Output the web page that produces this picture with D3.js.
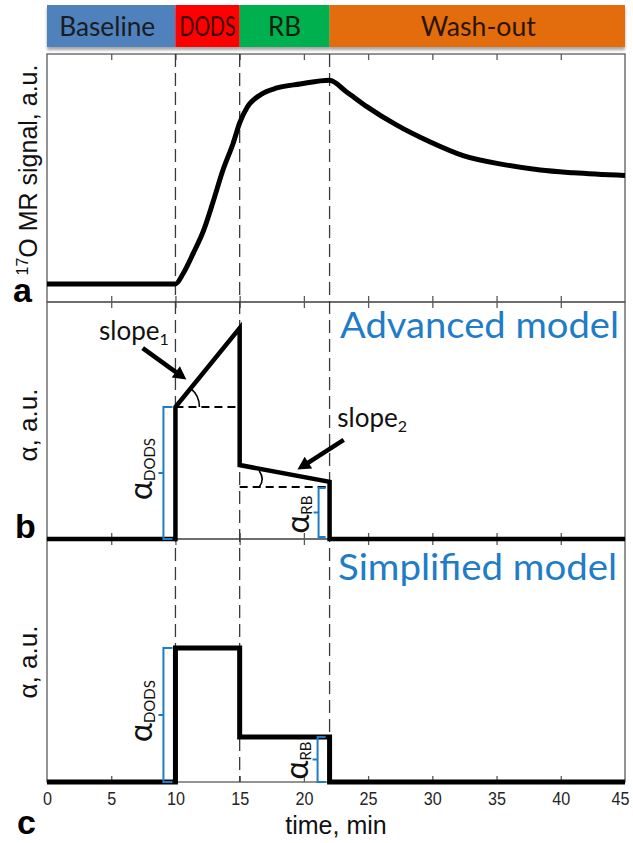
<!DOCTYPE html>
<html>
<head>
<meta charset="utf-8">
<script src="https://cdn.jsdelivr.net/npm/d3@7"></script>
<style>
  body { margin: 0; background: #fff; }
  svg { display: block; }
</style>
</head>
<body>
<script>
// Protocol phases (minutes)
const phaseNames  = ["Baseline", "DODS", "RB", "Wash-out"];
const phaseStart  = [0, 10, 15, 22];
const phaseEnd    = [10, 15, 22, 45];
const phaseColors = ["#4F81BD", "#FF0000", "#00B050", "#E36C09"];
const phaseTextColors = ["#1b1b22", "#3a0404", "#10200f", "#2a1404"];

const xTicks = [0, 5, 10, 15, 20, 25, 30, 35, 40, 45];
const boundaries = [10, 15, 22];

// Panel a: 17O MR signal (a.u.)
const signalTime  = [0, 10, 10.6, 11.4, 12.2, 12.9, 13.7, 14.5, 15.0, 15.6, 16.6, 17.9, 19.7, 22, 23.3, 24.9, 27.2, 29.8, 32.4, 35.8, 38.4, 41, 45];
const signalValue = [7.3, 7.3, 11.5, 19.8, 29.0, 39.9, 53.2, 64.1, 72.2, 78.6, 83.5, 86.3, 87.9, 89.4, 84.8, 78.8, 71.4, 64.6, 59.0, 55.2, 53.2, 52.1, 51.0];

// Panel b: advanced model alpha (a.u.)
const advTime  = [0, 10, 10, 15, 15, 22, 22, 45];
const advValue = [0, 0, 55.7, 89.0, 31.2, 24.1, 0, 0];
const advAlphaDODS = 55.7;
const advAlphaRB   = 21.9;

// Panel c: simplified model alpha (a.u.)
const simTime  = [0, 10, 10, 15, 15, 22, 22, 45];
const simValue = [0, 0, 55.1, 55.1, 18.5, 18.5, 0, 0];
const simAlphaDODS = 55.1;
const simAlphaRB   = 18.5;

const W = 633, H = 843;
const BLUE = "#1f7cc7";
const CAL = "Lato, 'Open Sans', sans-serif";
const ARIAL = "'Liberation Sans', Arial, sans-serif";

const svg = d3.select("body").append("svg")
  .attr("width", W).attr("height", H)
  .attr("viewBox", `0 0 ${W} ${H}`);

const defs = svg.append("defs");
const f = defs.append("filter").attr("id", "bandShadow")
  .attr("x", "-5%").attr("y", "-20%").attr("width", "110%").attr("height", "160%");
f.append("feDropShadow").attr("dx", 0).attr("dy", 3).attr("stdDeviation", 1.6)
  .attr("flood-color", "#000").attr("flood-opacity", 0.35);

const x = d3.scaleLinear().domain([0, 45]).range([47, 625]);

const panels = [
  { top: 54,  bottom: 302 },
  { top: 302, bottom: 539 },
  { top: 539, bottom: 782 }
];
const ya = d3.scaleLinear().domain([0, 100]).range([panels[0].bottom, panels[0].top]);
const yb = d3.scaleLinear().domain([0, 100]).range([panels[1].bottom, panels[1].top]);
const yc = d3.scaleLinear().domain([0, 100]).range([panels[2].bottom, panels[2].top]);

// ---- phase band ----
const band = svg.append("g").attr("filter", "url(#bandShadow)");
phaseNames.forEach((name, i) => {
  band.append("rect")
    .attr("x", x(phaseStart[i])).attr("y", 5)
    .attr("width", x(phaseEnd[i]) - x(phaseStart[i])).attr("height", 42)
    .attr("fill", phaseColors[i]);
});
const bandWidths = [96, 56, 33, 115];
const bandCenters = [0, 1, 2, 3].map(i => (x(phaseStart[i]) + x(phaseEnd[i])) / 2 + (i === 0 ? -4 : i === 3 ? 1 : 0));
phaseNames.forEach((name, i) => {
  svg.append("text")
    .attr("x", bandCenters[i]).attr("y", 36)
    .attr("text-anchor", "middle")
    .attr("font-family", CAL).attr("font-size", 26)
    .attr("fill", phaseTextColors[i])
    .attr("textLength", bandWidths[i]).attr("lengthAdjust", "spacingAndGlyphs")
    .text(name);
});

// ---- panel frames and inside ticks ----
panels.forEach((p, i) => {
  svg.append("rect")
    .attr("x", x(0)).attr("y", p.top)
    .attr("width", x(45) - x(0)).attr("height", p.bottom - p.top)
    .attr("fill", "none").attr("stroke", "#5a5a5a").attr("stroke-width", 1.3);

  const inner = xTicks.slice(1, -1);
  const topAxis = d3.axisTop(x).tickValues(inner).tickSize(-6).tickFormat("");
  const botAxis = d3.axisBottom(x).tickValues(inner).tickSize(-6).tickFormat("");
  const gt = svg.append("g").attr("transform", `translate(0,${p.top})`).call(topAxis);
  const gb = svg.append("g").attr("transform", `translate(0,${p.bottom})`).call(botAxis);
  [gt, gb].forEach(g => {
    g.select(".domain").remove();
    g.selectAll("line").attr("stroke", "#5a5a5a").attr("stroke-width", 1.3);
  });
});

// tick labels on the bottom axis (narrow digits)
const labelAxis = d3.axisBottom(x).tickValues(xTicks).tickSize(0).tickPadding(10).tickFormat(d3.format("d"));
const gl = svg.append("g").attr("transform", `translate(0,${panels[2].bottom})`).call(labelAxis);
gl.select(".domain").remove();
gl.selectAll("text")
  .attr("font-family", ARIAL).attr("font-size", 18).attr("fill", "#262626")
  .attr("textLength", d => String(d).length * 9)
  .attr("lengthAdjust", "spacingAndGlyphs");
// keep the last label inside the canvas
gl.selectAll(".tick").filter(d => d === 45).select("text")
  .attr("text-anchor", "end").attr("x", 629 - x(45));

// ---- phase boundaries ----
boundaries.forEach(t => {
  svg.append("line")
    .attr("x1", x(t)).attr("x2", x(t))
    .attr("y1", panels[0].top).attr("y2", panels[2].bottom)
    .attr("stroke", "#3a3a3a").attr("stroke-width", 1.3)
    .attr("stroke-dasharray", "13,6");
});

// ---- data lines ----
const signalLine = d3.line().x(d => x(d[0])).y(d => ya(d[1])).curve(d3.curveMonotoneX);
svg.append("path")
  .datum(signalTime.map((t, i) => [t, signalValue[i]]))
  .attr("d", signalLine)
  .attr("fill", "none").attr("stroke", "#000").attr("stroke-width", 5)
  .attr("stroke-linejoin", "round");

const advLine = d3.line().x(d => x(d[0])).y(d => yb(d[1]));
svg.append("path")
  .datum(advTime.map((t, i) => [t, advValue[i]]))
  .attr("d", advLine)
  .attr("fill", "none").attr("stroke", "#000").attr("stroke-width", 4.5)
  .attr("stroke-linejoin", "miter").attr("stroke-miterlimit", 3);

const simLine = d3.line().x(d => x(d[0])).y(d => yc(d[1]));
svg.append("path")
  .datum(simTime.map((t, i) => [t, simValue[i]]))
  .attr("d", simLine)
  .attr("fill", "none").attr("stroke", "#000").attr("stroke-width", 5)
  .attr("stroke-linejoin", "miter");

// ---- advanced model reference lines and angles ----
svg.append("line")
  .attr("x1", x(10)).attr("x2", x(15))
  .attr("y1", yb(advAlphaDODS)).attr("y2", yb(advAlphaDODS))
  .attr("stroke", "#000").attr("stroke-width", 2).attr("stroke-dasharray", "8,5");
svg.append("line")
  .attr("x1", x(15)).attr("x2", x(22))
  .attr("y1", yb(advAlphaRB)).attr("y2", yb(advAlphaRB))
  .attr("stroke", "#000").attr("stroke-width", 2).attr("stroke-dasharray", "8,5");

// angle of slope1
{
  const cx = x(10), cy = yb(advAlphaDODS);
  const ang = Math.atan2(yb(advAlphaDODS) - yb(89.0), x(15) - x(10));
  const r = 24;
  svg.append("path")
    .attr("d", `M${cx + r},${cy} A${r},${r} 0 0 0 ${cx + r * Math.cos(ang)},${cy - r * Math.sin(ang)}`)
    .attr("fill", "none").attr("stroke", "#000").attr("stroke-width", 1.6);
}
// angle of slope2
{
  const ta = 16.6;
  const vLine = 31.2 + (24.1 - 31.2) * (ta - 15) / 7;
  const xa = x(ta), y1 = yb(vLine) + 2, y2 = yb(advAlphaRB);
  svg.append("path")
    .attr("d", `M${xa - 1},${y1} Q${xa + 5},${(y1 + y2) / 2} ${xa - 1},${y2}`)
    .attr("fill", "none").attr("stroke", "#000").attr("stroke-width", 1.6);
}

// ---- arrows and slope labels ----
function arrow(x1, y1, x2, y2) {
  const dx = x2 - x1, dy = y2 - y1, L = Math.hypot(dx, dy);
  const ux = dx / L, uy = dy / L, head = 13, half = 7;
  const bx = x2 - ux * head, by = y2 - uy * head;
  svg.append("line").attr("x1", x1).attr("y1", y1).attr("x2", bx + ux).attr("y2", by + uy)
    .attr("stroke", "#000").attr("stroke-width", 4.6);
  svg.append("path")
    .attr("d", `M${x2},${y2} L${bx - uy * half},${by + ux * half} L${bx + uy * half},${by - ux * half} Z`)
    .attr("fill", "#000");
}
arrow(x(7.45), yb(80.5), x(10.85), yb(67.3));
arrow(x(23.1), yb(41.8), x(19.5), yb(29.3));

function subLabel(px, py, main, sub, size, subSize) {
  const t = svg.append("text").attr("x", px).attr("y", py)
    .attr("font-family", CAL).attr("font-size", size).attr("fill", "#111");
  t.append("tspan").text(main);
  t.append("tspan").attr("font-size", subSize).attr("dy", 5).text(sub);
  return t;
}
subLabel(x(4.05), yb(83.8), "slope", "1", 26, 16);
subLabel(x(22.6), yb(47.3), "slope", "2", 26, 16);

// ---- model titles ----
svg.append("text").attr("x", 619).attr("y", 338).attr("text-anchor", "end")
  .attr("font-family", CAL).attr("font-size", 36).attr("fill", BLUE)
  .attr("textLength", 279).attr("lengthAdjust", "spacingAndGlyphs")
  .text("Advanced model");
svg.append("text").attr("x", 617).attr("y", 580).attr("text-anchor", "end")
  .attr("font-family", CAL).attr("font-size", 36).attr("fill", BLUE)
  .attr("textLength", 279).attr("lengthAdjust", "spacingAndGlyphs")
  .text("Simplified model");

// ---- alpha brackets ----
function bracket(bx, yTop, yBot, capTo, notch) {
  const ym = (yTop + yBot) / 2;
  svg.append("path")
    .attr("d", `M${capTo},${yTop} H${bx} V${yBot} H${capTo} M${bx},${ym} H${bx - notch}`)
    .attr("fill", "none").attr("stroke", BLUE).attr("stroke-width", 2);
  return ym;
}
function alphaLabel(px, py, sub, alphaSize) {
  const t = svg.append("text")
    .attr("transform", `translate(${px},${py}) rotate(-90)`)
    .attr("text-anchor", "middle")
    .attr("font-family", CAL).attr("fill", "#111");
  t.append("tspan").attr("font-size", alphaSize).text("α");
  t.append("tspan").attr("font-size", 15).attr("dy", 3).text(sub);
}

// panel b
{
  const m1 = bracket(x(10) - 12, yb(advAlphaDODS), yb(0), x(10) - 3, 5);
  alphaLabel(x(10) - 23, m1 - 4, "DODS", 32);
  const m2 = bracket(x(22) - 11, yb(advAlphaRB) + 1, yb(0) - 2, x(22) - 4, 5);
  alphaLabel(x(22) - 21, m2 + 2, "RB", 32);
}
// panel c
{
  const m1 = bracket(x(10) - 12, yc(simAlphaDODS), yc(0), x(10) - 3, 5);
  alphaLabel(x(10) - 23, m1 - 4, "DODS", 32);
  const m2 = bracket(x(22) - 12, yc(simAlphaRB), yc(0), x(22) - 4, 5);
  alphaLabel(x(22) - 22, m2 + 1, "RB", 32);
}

// ---- axis titles ----
{
  const t = svg.append("text")
    .attr("transform", `translate(37,${(panels[0].top + panels[0].bottom) / 2 - 8}) rotate(-90)`)
    .attr("text-anchor", "middle")
    .attr("font-family", ARIAL).attr("font-size", 25).attr("fill", "#111");
  t.append("tspan").attr("font-size", 16).attr("dy", -9).text("17");
  t.append("tspan").attr("dy", 9).text("O MR signal, a.u.");
}
[[1, 4.5], [2, 1.5]].forEach(([i, off]) => {
  svg.append("text")
    .attr("transform", `translate(37,${(panels[i].top + panels[i].bottom) / 2 + off}) rotate(-90)`)
    .attr("text-anchor", "middle")
    .attr("font-family", ARIAL).attr("font-size", 26).attr("fill", "#111")
    .text("α, a.u.");
});
svg.append("text").attr("x", (x(0) + x(45)) / 2).attr("y", 834)
  .attr("text-anchor", "middle")
  .attr("font-family", ARIAL).attr("font-size", 25).attr("fill", "#111")
  .text("time, min");

// ---- panel letters ----
[["a", 13, 302], ["b", 15, 538], ["c", 17, 834]].forEach(([s, px, py]) => {
  svg.append("text").attr("x", px).attr("y", py)
    .attr("font-family", ARIAL).attr("font-weight", "bold").attr("font-size", 34)
    .attr("fill", "#000").text(s);
});
</script>
</body>
</html>
